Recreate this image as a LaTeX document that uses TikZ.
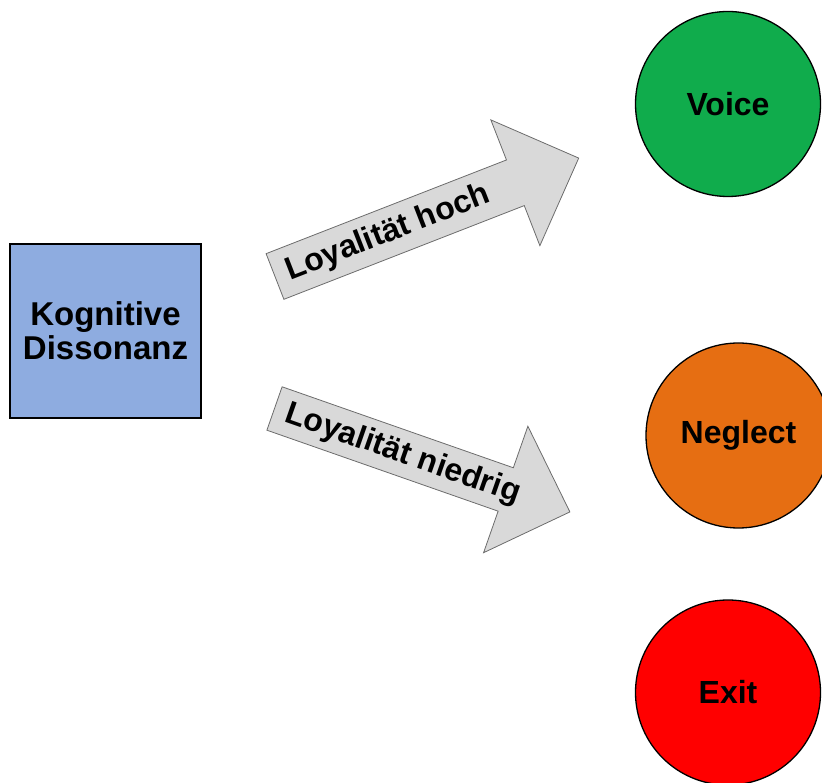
\documentclass[tikz,border=0pt]{standalone}
\usepackage{fontspec}
\setmainfont{Liberation Sans}
\usetikzlibrary{calc}
\definecolor{boxblue}{RGB}{142,172,224}
\definecolor{voicegreen}{RGB}{16,172,76}
\definecolor{neglectorange}{RGB}{230,110,18}
\definecolor{exitred}{RGB}{255,0,0}
\definecolor{arrowgray}{RGB}{217,217,217}

\begin{document}
\begin{tikzpicture}[x=1pt,y=1pt]
	\tikzstyle{schrift} = [font=\bfseries\fontsize{32}{34}\selectfont]
	\tikzstyle{kreis} = [circle, draw, line width=1.3pt, minimum size=185pt, inner sep=0pt, schrift]
	\tikzstyle{pfeil} = [fill=arrowgray, draw=gray!85!black, line width=0.8pt]
	\useasboundingbox (0,0) rectangle (822,782);
	\node[draw, line width=1.3pt, fill=boxblue, minimum width=191pt, minimum height=174pt, inner sep=0pt, align=center, schrift, font=\bfseries\fontsize{33}{34}\selectfont] (KD) at (105.5,451) {Kognitive\\Dissonanz};
	\node[kreis, fill=voicegreen] (V) at (728,678) {Voice};
	\node[kreis, fill=neglectorange] (N) at (738.5,346.5) {Neglect};
	\node[kreis, fill=exitred] (E) at (728,89.5) {Exit};
	\begin{scope}[shift={(275,505.5)}, rotate=21.3]
		\coordinate (HS) at (0,0);
		\coordinate (HT) at (326,0);
		\draw[pfeil] (0,-24.5) -- (258,-24.5) -- (258,-67.5) -- (HT) -- (258,67.5) -- (258,24.5) -- (0,24.5) -- cycle;
		\node[schrift, rotate=21.3, anchor=west] (LH) at ($(HS)+(9,-1)$) {Loyalität hoch};
	\end{scope}
	\begin{scope}[shift={(274.5,373.5)}, rotate=-19.3]
		\coordinate (NS) at (0,0);
		\coordinate (NT) at (313,0);
		\draw[pfeil] (0,-23) -- (245,-23) -- (245,-67) -- (NT) -- (245,67) -- (245,23) -- (0,23) -- cycle;
		\node[schrift, rotate=-19.3, anchor=west] (LN) at ($(NS)+(9,-1)$) {Loyalität niedrig};
	\end{scope}
\end{tikzpicture}
\end{document}
